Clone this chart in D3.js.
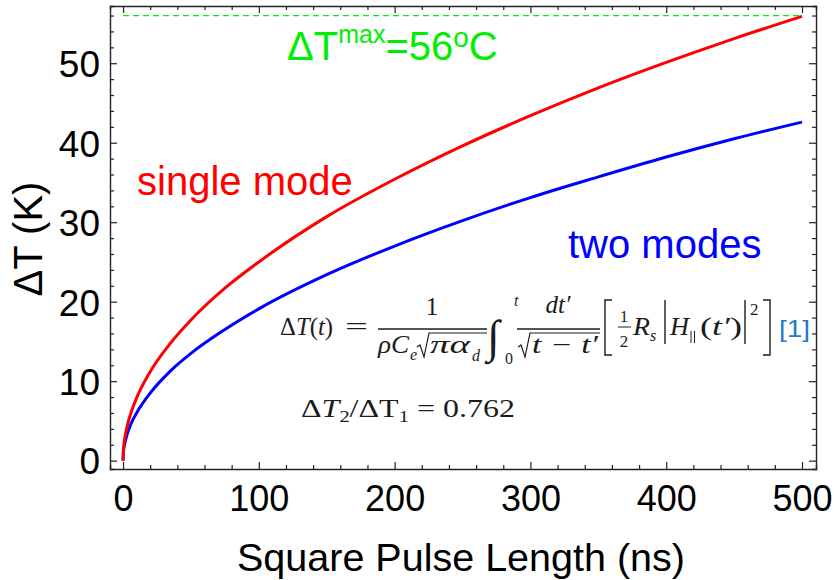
<!DOCTYPE html>
<html>
<head>
<meta charset="utf-8">
<script src="https://cdn.jsdelivr.net/npm/d3@7"></script>
<style>
  body { margin: 0; background: #fff; }
  svg text { font-family: "Liberation Sans", Arial, sans-serif; }
  .eq text { font-family: "Liberation Serif", "DejaVu Serif", serif; fill: #1c1c1c; }
</style>
</head>
<body>
<div id="chart"></div>
<script>
// pulse length (ns) and temperature rise (K)
const pulseNs = [0, 0.3, 1, 3, 6, 10, 20, 35, 50, 75, 100, 150, 200, 250, 300, 350, 400, 450, 500];
const singleMode = [0, 1.4, 2.5, 4.3, 6.1, 7.9, 11.2, 14.8, 17.7, 21.7, 25.0, 30.7, 35.4, 39.6, 43.4, 46.9, 50.1, 53.1, 55.9];
const twoModes = [0, 1.1, 1.9, 3.3, 4.7, 6.0, 8.5, 11.3, 13.5, 16.5, 19.1, 23.4, 27.0, 30.2, 33.1, 35.7, 38.2, 40.5, 42.6];
const maxRise = 56;
const xTicks = [0, 100, 200, 300, 400, 500];
const yTicks = [0, 10, 20, 30, 40, 50];

const width = 834, height = 580;
const frame = { left: 110, right: 816, top: 6, bottom: 469 };

const svg = d3.select("#chart").append("svg")
  .attr("width", width).attr("height", height);

const x = d3.scaleLinear().domain([-9.6, 510.3]).range([frame.left, frame.right]);
const y = d3.scaleLinear().domain([-1.05, 57.2]).range([frame.bottom, frame.top]);

const xMinor = d3.range(0, 501, 20).filter((v) => v % 100 !== 0);
const yMinor = d3.range(0, 57, 2).filter((v) => v % 10 !== 0);

// frame with inward ticks on all four sides
function frameAxis(axisFn, scale, pos, major, minor, labels) {
  const g = svg.append("g").attr("transform", pos);
  g.call(axisFn(scale).tickValues(minor).tickSize(-4).tickFormat(""));
  g.append("g").call(axisFn(scale).tickValues(major).tickSize(-7).tickSizeOuter(0)
    .tickFormat(labels ? d3.format("d") : ""));
  g.selectAll(".domain").attr("stroke", "#222").attr("stroke-width", 1.4);
  g.selectAll(".tick line").attr("stroke", "#222").attr("stroke-width", 1.2);
  g.selectAll("g > g > .domain").remove();
  return g;
}

const gx = frameAxis(d3.axisBottom, x, `translate(0,${frame.bottom})`, xTicks, xMinor, true);
gx.selectAll(".tick text").attr("y", 0).attr("dy", 42)
  .style("font-size", "36px").attr("fill", "#000");
frameAxis(d3.axisTop, x, `translate(0,${frame.top})`, xTicks, xMinor, false);

const gy = frameAxis(d3.axisLeft, y, `translate(${frame.left},0)`, yTicks, yMinor, true);
gy.selectAll(".tick text").attr("x", -10).attr("dy", "0.36em")
  .style("font-size", "37px").attr("fill", "#000");
frameAxis(d3.axisRight, y, `translate(${frame.right},0)`, yTicks, yMinor, false);

// max line
svg.append("line")
  .attr("x1", x(0)).attr("x2", x(500))
  .attr("y1", y(maxRise)).attr("y2", y(maxRise))
  .attr("stroke", "#00ee00").attr("stroke-width", 1.3)
  .attr("stroke-dasharray", "6,4");

const line = (vals) => d3.line()
  .x((d, i) => x(pulseNs[i]))
  .y((d) => y(d))
  .curve(d3.curveMonotoneX)(vals);

svg.append("path").attr("d", line(twoModes))
  .attr("fill", "none").attr("stroke", "#0000ff").attr("stroke-width", 3);
svg.append("path").attr("d", line(singleMode))
  .attr("fill", "none").attr("stroke", "#ff0000").attr("stroke-width", 3);

// axis titles
svg.append("text").attr("x", 461).attr("y", 571).attr("text-anchor", "middle")
  .style("font-size", "39.5px").text("Square Pulse Length (ns)");
svg.append("text").attr("transform", "translate(42,239) rotate(-90)")
  .attr("text-anchor", "middle").style("font-size", "40px").text("ΔT (K)");

// annotations
svg.append("text").attr("x", 137).attr("y", 195).attr("fill", "#ff0000")
  .style("font-size", "40px").text("single mode");
svg.append("text").attr("x", 568).attr("y", 258).attr("fill", "#0000ff")
  .style("font-size", "40px").text("two modes");

const green = svg.append("text").attr("x", 287).attr("y", 60).attr("fill", "#00ee00")
  .style("font-size", "40px");
green.append("tspan").text("ΔT");
green.append("tspan").attr("dy", -17).style("font-size", "25px").text("max");
green.append("tspan").attr("dy", 17).text("=56");
green.append("tspan").attr("dy", -13).style("font-size", "28px").text("o");
green.append("tspan").attr("dy", 13).text("C");

// heat equation, placed piece by piece
const ink = "#1c1c1c";
const eq = svg.append("g").attr("class", "eq");
function put(px, py, size, str, italic, len, anchor) {
  const t = eq.append("text").attr("x", px).attr("y", py)
    .style("font-size", size + "px")
    .style("font-style", italic ? "italic" : "normal")
    .attr("text-anchor", anchor || "start").text(str);
  if (len) t.attr("textLength", len).attr("lengthAdjust", "spacingAndGlyphs");
  return t;
}
function stroke(d, w) {
  eq.append("path").attr("d", d).attr("fill", "none")
    .attr("stroke", ink).attr("stroke-width", w || 1.3);
}

const lhs = eq.append("text").attr("x", 280).attr("y", 335).style("font-size", "25px")
  .attr("textLength", 53).attr("lengthAdjust", "spacingAndGlyphs");
lhs.append("tspan").text("Δ");
lhs.append("tspan").style("font-style", "italic").text("T");
lhs.append("tspan").text("(");
lhs.append("tspan").style("font-style", "italic").text("t");
lhs.append("tspan").text(")");
put(345, 335, 25, "=", false, 23);

// 1 / (rho C_e sqrt(pi alpha_d))
stroke("M378,329H487");
put(432, 315, 25, "1", false, null, "middle");
put(378, 353, 25, "ρC", true, 31);
put(410, 360, 16, "e", true);
stroke("M417,347L420,345L424,357L429,333H487", 1.2);
put(430, 353, 25, "πα", true, 40);
put(472, 361, 16, "d", true);

// integral and limits
put(487, 352, 46, "∫");
put(514, 306, 16, "t", true);
put(505, 364, 16, "0");

// dt' / sqrt(t - t')
stroke("M517,329H600");
put(558, 313, 25, "dt′", true, null, "middle");
stroke("M518,347L521,345L525,357L530,333H600", 1.2);
put(532, 353, 25, "t − t′", true, 66);

// [ 1/2 R_s |H_par(t')|^2 ]
stroke("M612,300H605V355H612", 1.4);
put(624, 322, 17, "1", false, null, "middle");
stroke("M618,327H631", 1);
put(624, 347, 17, "2", false, null, "middle");
put(633, 335, 25, "R", true, 17);
put(650, 341, 16, "s", true);
stroke("M665,300V344", 1.4);
put(670, 335, 25, "H", true, 19);
stroke("M691,331V343M694.5,331V343", 1);
const arg = eq.append("text").attr("x", 700).attr("y", 335).style("font-size", "25px")
  .attr("textLength", 42).attr("lengthAdjust", "spacingAndGlyphs");
arg.append("tspan").text("(");
arg.append("tspan").style("font-style", "italic").text("t′");
arg.append("tspan").text(")");
stroke("M745,300V344", 1.4);
put(750, 315, 17, "2");
stroke("M763,300H770V355H763", 1.4);

svg.append("text").attr("x", 779).attr("y", 337).attr("fill", "#1f78c8")
  .style("font-size", "24px").attr("textLength", 31).attr("lengthAdjust", "spacingAndGlyphs")
  .text("[1]");

const ratio = eq.append("text").attr("x", 301).attr("y", 417).style("font-size", "25px")
  .attr("textLength", 214).attr("lengthAdjust", "spacingAndGlyphs");
ratio.append("tspan").text("Δ");
ratio.append("tspan").style("font-style", "italic").text("T");
ratio.append("tspan").attr("dy", 5).style("font-size", "16px").text("2");
ratio.append("tspan").attr("dy", -5).text("/ΔT");
ratio.append("tspan").attr("dy", 5).style("font-size", "16px").text("1");
ratio.append("tspan").attr("dy", -5).text(" = 0.762");
</script>
</body>
</html>
